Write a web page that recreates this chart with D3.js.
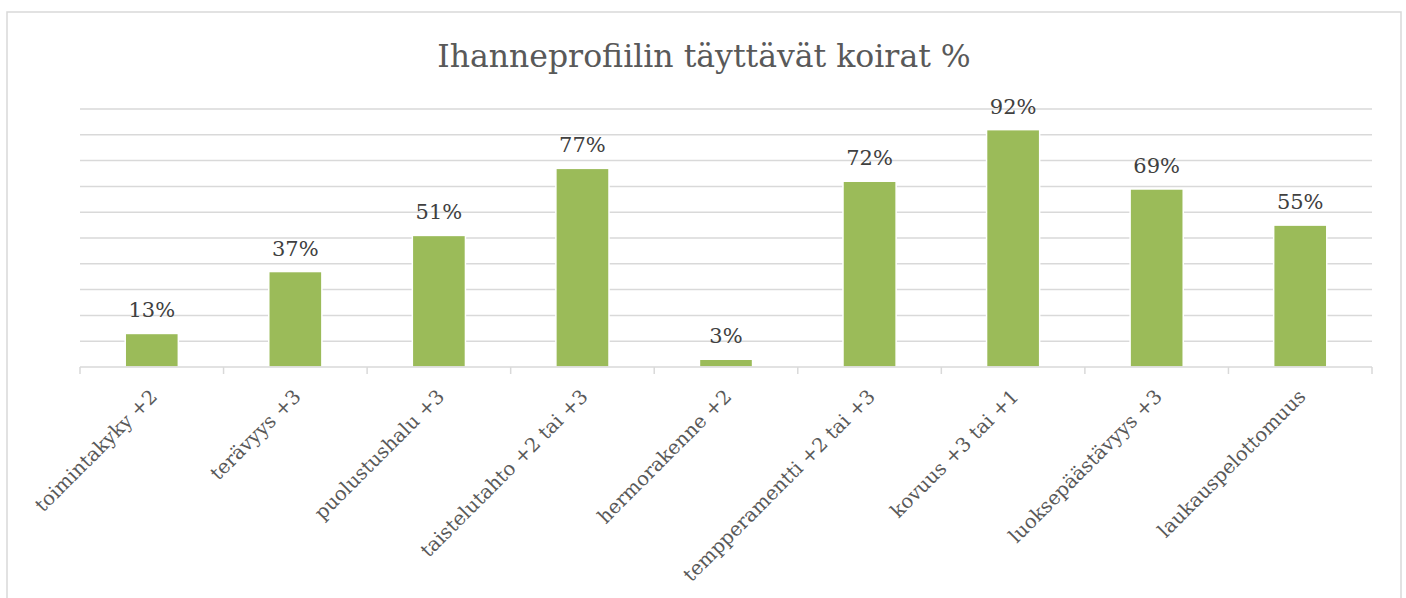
<!DOCTYPE html>
<html>
<head>
<meta charset="utf-8">
<script src="https://cdn.jsdelivr.net/npm/d3@7"></script>
<style>
  body { margin: 0; background: #fff; }
  text { font-family: "DejaVu Serif", "Liberation Serif", serif; }
</style>
</head>
<body>
<script>
// Chart data
const categories = ["toimintakyky +2", "terävyys +3", "puolustushalu +3", "taistelutahto +2 tai +3",
  "hermorakenne +2", "tempperamentti +2 tai +3", "kovuus +3 tai +1", "luoksepäästävyys +3", "laukauspelottomuus"];
const values = [0.13, 0.37, 0.51, 0.77, 0.03, 0.72, 0.92, 0.69, 0.55];
const gridTicks = [0, 0.1, 0.2, 0.3, 0.4, 0.5, 0.6, 0.7, 0.8, 0.9, 1.0];

const WIDTH = 1406, HEIGHT = 598;
const plot = { left: 80, right: 1372, top: 109, bottom: 367 };

const svg = d3.select("body").append("svg").attr("width", WIDTH).attr("height", HEIGHT);

// chart frame
svg.append("rect").attr("x", 7).attr("y", 12).attr("width", 1394).attr("height", 600)
  .attr("fill", "#fff").attr("stroke", "#d9d9d9").attr("stroke-width", 1.5);

// title
svg.append("text").attr("x", 704).attr("y", 67).attr("text-anchor", "middle")
  .attr("font-size", 31.5).attr("fill", "#595959").text("Ihanneprofiilin täyttävät koirat %");

const x = d3.scaleBand().domain(categories).range([plot.left, plot.right]).paddingInner(0.63).paddingOuter(0.315);
const y = d3.scaleLinear().domain([0, 1]).range([plot.bottom, plot.top]);

// gridlines
svg.append("g").selectAll("line").data(gridTicks.slice(1)).enter().append("line")
  .attr("x1", plot.left).attr("x2", plot.right)
  .attr("y1", d => y(d)).attr("y2", d => y(d))
  .attr("stroke", "#d9d9d9").attr("stroke-width", 1.5);

// bars
svg.append("g").selectAll("rect").data(values).enter().append("rect")
  .attr("x", (d, i) => x(categories[i]))
  .attr("y", d => y(d))
  .attr("width", x.bandwidth())
  .attr("height", d => y(0) - y(d))
  .attr("fill", "#9bbb59").attr("stroke", "#fff").attr("stroke-width", 1.5);

// x axis with ticks at category boundaries
const step = x.step();
const axisG = svg.append("g");
axisG.append("line").attr("x1", plot.left).attr("x2", plot.right)
  .attr("y1", plot.bottom).attr("y2", plot.bottom).attr("stroke", "#d9d9d9").attr("stroke-width", 1.5);
axisG.selectAll("line.tick").data(d3.range(categories.length + 1)).enter().append("line")
  .attr("class", "tick")
  .attr("x1", i => plot.left + i * step).attr("x2", i => plot.left + i * step)
  .attr("y1", plot.bottom).attr("y2", plot.bottom + 7)
  .attr("stroke", "#d9d9d9").attr("stroke-width", 1.5);

// category labels, rotated
axisG.selectAll("text").data(categories).enter().append("text")
  .attr("transform", d => `translate(${x(d) + x.bandwidth() / 2 - 3},${plot.bottom + 21}) rotate(-45)`)
  .attr("text-anchor", "end").attr("dy", "0.7em")
  .attr("font-size", 19.5).attr("fill", "#595959").text(d => d);

// value labels
svg.append("g").selectAll("text").data(values).enter().append("text")
  .attr("x", (d, i) => x(categories[i]) + x.bandwidth() / 2)
  .attr("y", d => y(d) - 16)
  .attr("text-anchor", "middle").attr("font-size", 21).attr("fill", "#404040")
  .text(d => d3.format(".0%")(d));
</script>
</body>
</html>
